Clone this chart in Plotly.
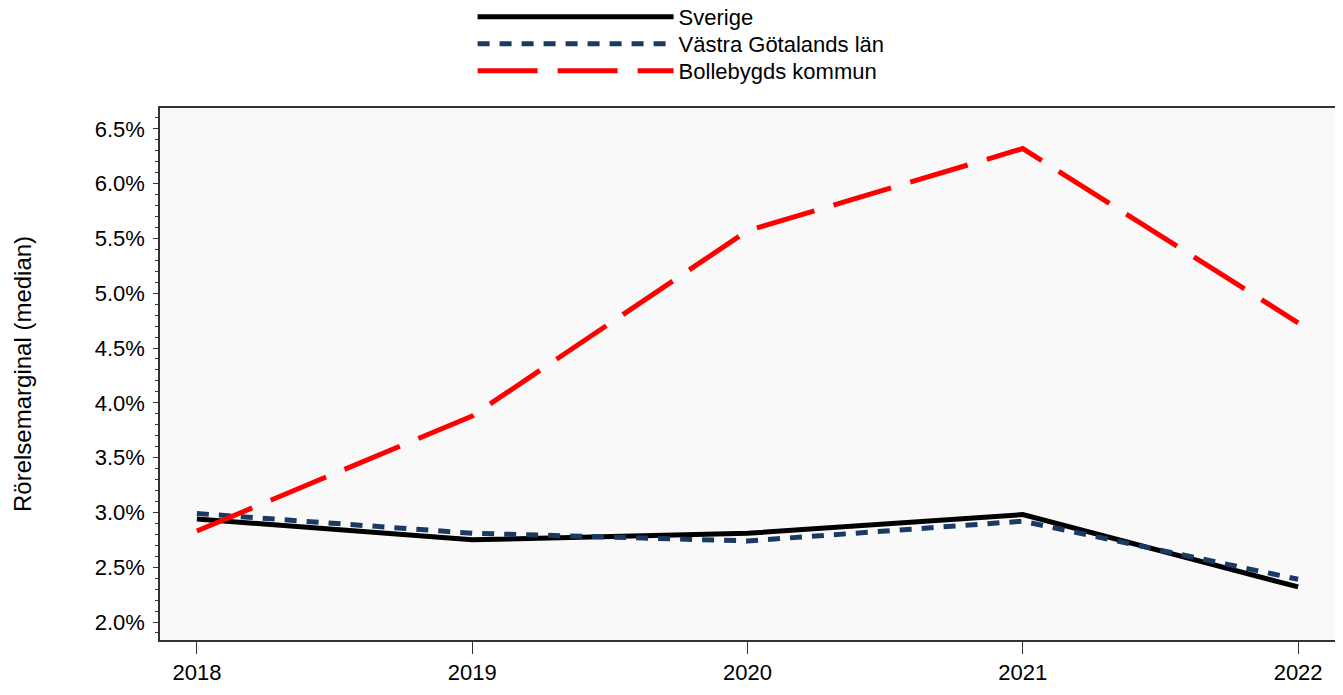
import plotly.graph_objects as go

years = [2018, 2019, 2020, 2021, 2022]
sverige = [2.94, 2.75, 2.81, 2.98, 2.32]
vastra = [2.99, 2.81, 2.74, 2.92, 2.39]
bollebygd = [2.83, 3.88, 5.57, 6.32, 4.73]
y_ticks = [2.0, 2.5, 3.0, 3.5, 4.0, 4.5, 5.0, 5.5, 6.0, 6.5]

fig = go.Figure()
fig.add_trace(go.Scatter(x=years, y=sverige, mode='lines', name='Sverige', legend='legend',
                         line=dict(color='#000000', width=5)))
fig.add_trace(go.Scatter(x=years, y=vastra, mode='lines', name='Västra Götalands län', legend='legend2',
                         line=dict(color='#1b3a63', width=5, dash='12px,10px')))
fig.add_trace(go.Scatter(x=years, y=bollebygd, mode='lines', name='Bollebygds kommun', legend='legend3',
                         line=dict(color='#ff0000', width=5, dash='60px,20px')))

H = 687
leg = dict(x=0.348, xref='container', xanchor='left', yref='container', yanchor='middle',
           orientation='v', itemwidth=196, font=dict(size=22), bgcolor='rgba(0,0,0,0)')

# page has an 8px body margin, so the figure is 8px smaller than the window
fig.update_layout(
    width=1335, height=H,
    margin=dict(l=152, r=8, t=100, b=55, autoexpand=False),
    paper_bgcolor='white', plot_bgcolor='#f9f9f9',
    font=dict(family='Liberation Sans, Arial', size=22, color='#000000'),
    legend=dict(leg, y=1 - 9 / H),
    legend2=dict(leg, y=1 - 36 / H),
    legend3=dict(leg, y=1 - 63 / H),
    showlegend=True,
)
fig.add_annotation(text='Rörelsemarginal (median)', textangle=-90, showarrow=False,
                   xref='paper', yref='paper', x=0, y=0.5, xanchor='center', yanchor='middle',
                   xshift=-138, font=dict(size=24))
fig.update_xaxes(range=[2017.866, 2022.134], tickvals=years, ticks='outside', ticklen=12,
                 tickcolor='#333333', showgrid=False, zeroline=False, automargin=False,
                 showline=True, linecolor='#333333', linewidth=1.5, mirror=True)
fig.update_yaxes(range=[1.836, 6.69], tickvals=y_ticks, ticktext=[f'{v:.1f}%' for v in y_ticks],
                 ticks='outside', ticklen=5, tickcolor='#333333', automargin=False, ticklabelstandoff=4,
                 minor=dict(dtick=0.1, ticks='outside', ticklen=3, tickcolor='#333333', showgrid=False),
                 showgrid=False, zeroline=False, showline=True, linecolor='#333333', linewidth=1.5,
                 mirror=True)

fig.write_html("out.html")
